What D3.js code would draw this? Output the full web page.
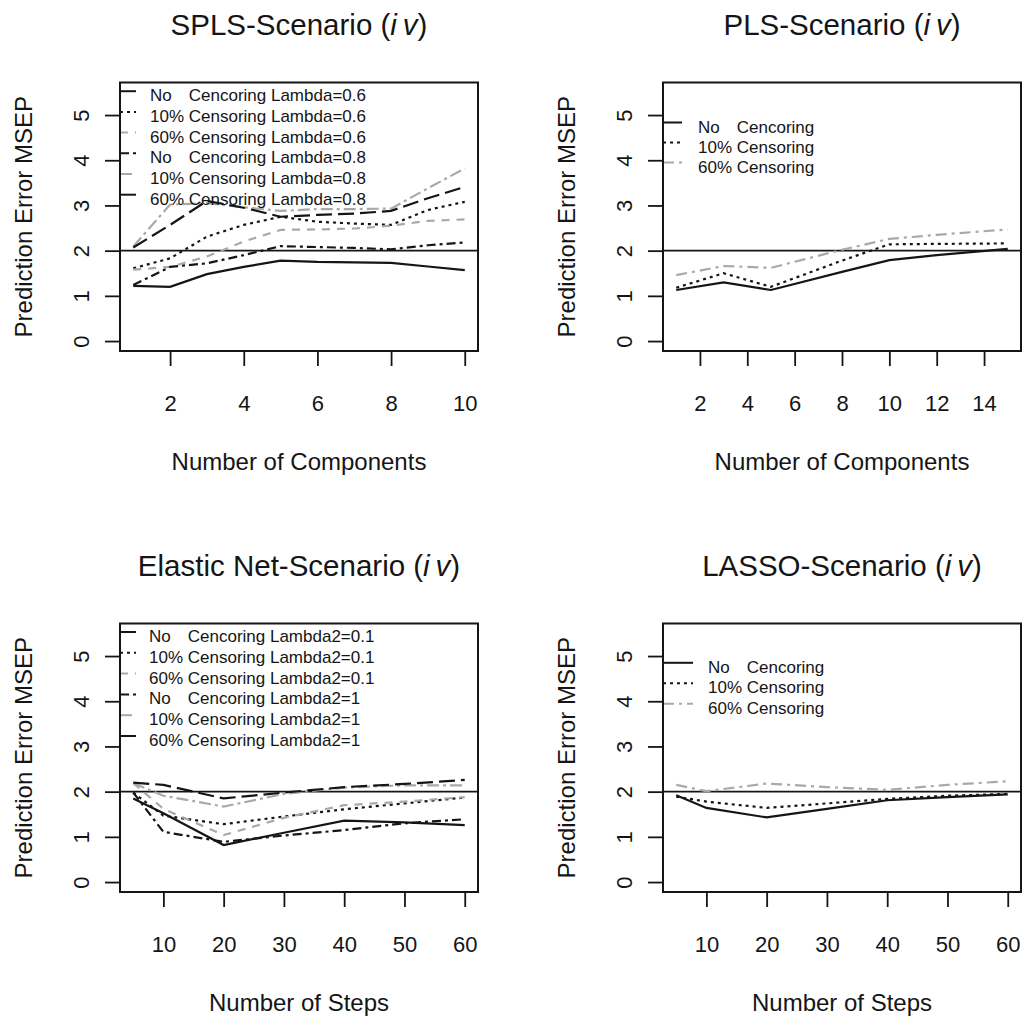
<!DOCTYPE html>
<html>
<head>
<meta charset="utf-8">
<script src="https://cdn.jsdelivr.net/npm/d3@7"></script>
<style>
  body { margin: 0; background: #fff; }
  svg { display: block; font-family: "Liberation Sans", Arial, Helvetica, sans-serif; }
</style>
</head>
<body>
<div id="chart-area"></div>
<script>
// ---- data ----
const yTicks = [0, 1, 2, 3, 4, 5]

// SPLS
const splsX = [1, 2, 3, 4, 5, 6, 7, 8, 9, 10]
const splsTicks = [2, 4, 6, 8, 10]
const splsNo06 = [1.22, 1.20, 1.48, 1.64, 1.78, 1.75, 1.74, 1.73, 1.65, 1.57]
const spls10_06 = [1.61, 1.83, 2.31, 2.57, 2.75, 2.64, 2.60, 2.57, 2.90, 3.08]
const spls60_06 = [1.58, 1.64, 1.87, 2.20, 2.46, 2.47, 2.49, 2.55, 2.66, 2.69]
const splsNo08 = [1.24, 1.64, 1.72, 1.90, 2.10, 2.08, 2.06, 2.03, 2.12, 2.18]
const spls10_08 = [2.09, 3.02, 3.05, 2.96, 2.88, 2.92, 2.92, 2.93, 3.38, 3.82]
const spls60_08 = [2.07, 2.57, 3.10, 2.95, 2.75, 2.79, 2.82, 2.88, 3.16, 3.41]
const splsLegend = ["No Cencoring Lambda=0.6", "10% Censoring Lambda=0.6", "60% Censoring Lambda=0.6",
                    "No Cencoring Lambda=0.8", "10% Censoring Lambda=0.8", "60% Censoring Lambda=0.8"]

// PLS
const plsX = [1, 3, 5, 8, 10, 12, 15]
const plsTicks = [2, 4, 6, 8, 10, 12, 14]
const plsNo = [1.13, 1.30, 1.13, 1.53, 1.79, 1.90, 2.04]
const pls10 = [1.18, 1.50, 1.20, 1.78, 2.14, 2.15, 2.16]
const pls60 = [1.46, 1.66, 1.62, 2.02, 2.26, 2.35, 2.47]
const plsLegend = ["No Cencoring", "10% Censoring", "60% Censoring"]

// Elastic Net
const enX = [5, 10, 20, 30, 40, 50, 60]
const stepTicks = [10, 20, 30, 40, 50, 60]
const enNo01 = [1.85, 1.52, 0.82, 1.09, 1.36, 1.32, 1.26]
const en10_01 = [1.98, 1.47, 1.28, 1.45, 1.61, 1.74, 1.87]
const en60_01 = [2.19, 1.62, 1.04, 1.42, 1.70, 1.78, 1.88]
const enNo1 = [1.98, 1.11, 0.89, 1.03, 1.15, 1.30, 1.39]
const en10_1 = [2.19, 1.91, 1.67, 1.95, 2.09, 2.14, 2.14]
const en60_1 = [2.20, 2.15, 1.85, 1.98, 2.10, 2.17, 2.26]
const enLegend = ["No Cencoring Lambda2=0.1", "10% Censoring Lambda2=0.1", "60% Censoring Lambda2=0.1",
                  "No Cencoring Lambda2=1", "10% Censoring Lambda2=1", "60% Censoring Lambda2=1"]

// LASSO
const lassoX = [5, 10, 20, 30, 40, 50, 60]
const lassoNo = [1.92, 1.64, 1.43, 1.62, 1.81, 1.88, 1.94]
const lasso10 = [1.89, 1.78, 1.64, 1.74, 1.84, 1.91, 1.95]
const lasso60 = [2.15, 2.01, 2.18, 2.10, 2.04, 2.15, 2.23]
const lassoLegend = ["No Cencoring", "10% Censoring", "60% Censoring"]

// ---- styles ----
const BLACK = "#151515"
const GREY = "#a9a9a9"
const SIX = [
  { color: BLACK, dash: null },
  { color: BLACK, dash: "3,4" },
  { color: GREY, dash: "8,7" },
  { color: BLACK, dash: "9,4,3,4" },
  { color: GREY, dash: "12,4,3,4" },
  { color: BLACK, dash: "16,6" }
]
const THREE = [
  { color: BLACK, dash: null },
  { color: BLACK, dash: "3,4" },
  { color: GREY, dash: "11,5,3,5" }
]

const W = 358, H = 268.5
const FS_TICK = 22, FS_LAB = 24, FS_TITLE = 29.5, FS_LEG = 17

const panels = [
  { title: "SPLS-Scenario", xlab: "Number of Components", x: splsX, ticks: splsTicks,
    series: [splsNo06, spls10_06, spls60_06, splsNo08, spls10_08, spls60_08], styles: SIX,
    legend: splsLegend, left: 120, top: 82.5, legTop: 12.7, legStep: 20.7, sampleLen: 16, textOff: 30 },
  { title: "PLS-Scenario", xlab: "Number of Components", x: plsX, ticks: plsTicks,
    series: [plsNo, pls10, pls60], styles: THREE,
    legend: plsLegend, left: 663, top: 82.5, legTop: 44, legStep: 20, sampleLen: 19, textOff: 35 },
  { title: "Elastic Net-Scenario", xlab: "Number of Steps", x: enX, ticks: stepTicks,
    series: [enNo01, en10_01, en60_01, enNo1, en10_1, en60_1], styles: SIX,
    legend: enLegend, left: 120, top: 623.5, legTop: 12.5, legStep: 20.8, sampleLen: 16, textOff: 29 },
  { title: "LASSO-Scenario", xlab: "Number of Steps", x: lassoX, ticks: stepTicks,
    series: [lassoNo, lasso10, lasso60], styles: THREE,
    legend: lassoLegend, left: 663, top: 623.5, legTop: 43.3, legStep: 20.5, sampleLen: 30, textOff: 45 }
]

const svg = d3.select("#chart-area").append("svg")
  .attr("width", 1024)
  .attr("height", 1016)

panels.forEach(p => {
  const g = svg.append("g").attr("transform", `translate(${p.left}, ${p.top})`)

  // R style 4% range extension
  const xmin = d3.min(p.x), xmax = d3.max(p.x), pad = (xmax - xmin) * 0.04
  const x = d3.scaleLinear().domain([xmin - pad, xmax + pad]).range([0, W])
  const y = d3.scaleLinear().domain([-0.22, 5.72]).range([H, 0])

  // axes
  const yAxis = g.append("g")
    .call(d3.axisLeft(y).tickValues(yTicks).tickSize(15).tickFormat(d3.format("d")))
  yAxis.select(".domain").remove()
  yAxis.selectAll(".tick line").attr("stroke", BLACK).attr("stroke-width", 1.8)
  yAxis.selectAll(".tick text")
    .attr("x", 0).attr("y", -31).attr("dy", null)
    .attr("transform", "rotate(-90)")
    .attr("text-anchor", "middle")
    .attr("font-size", FS_TICK).attr("font-family", null)
    .attr("fill", BLACK)

  const xAxis = g.append("g")
    .attr("transform", `translate(0, ${H})`)
    .call(d3.axisBottom(x).tickValues(p.ticks).tickSize(15).tickFormat(d3.format("d")))
  xAxis.select(".domain").remove()
  xAxis.selectAll(".tick line").attr("stroke", BLACK).attr("stroke-width", 1.8)
  xAxis.selectAll(".tick text")
    .attr("y", 60).attr("dy", null)
    .attr("font-size", FS_TICK).attr("font-family", null)
    .attr("fill", BLACK)

  // reference line at 2
  g.append("line")
    .attr("x1", 0).attr("x2", W)
    .attr("y1", y(2)).attr("y2", y(2))
    .attr("stroke", BLACK).attr("stroke-width", 1.8)

  // series lines
  const line = d3.line().x((d, i) => x(p.x[i])).y(d => y(d))
  p.series.forEach((s, i) => {
    g.append("path")
      .attr("d", line(s))
      .attr("fill", "none")
      .attr("stroke", p.styles[i].color)
      .attr("stroke-width", 2.2)
      .attr("stroke-dasharray", p.styles[i].dash)
  })

  // legend (no box)
  p.legend.forEach((lab, i) => {
    const cy = p.legTop + i * p.legStep
    g.append("line")
      .attr("x1", 0).attr("x2", p.sampleLen)
      .attr("y1", cy - 4).attr("y2", cy - 4)
      .attr("stroke", p.styles[i].color)
      .attr("stroke-width", 2)
      .attr("stroke-dasharray", p.styles[i].dash)
    const sp = lab.indexOf(" ")
    const t = g.append("text")
      .attr("y", cy + 6)
      .attr("font-size", FS_LEG)
      .attr("fill", BLACK)
    t.append("tspan").attr("x", p.textOff).text(lab.slice(0, sp))
    t.append("tspan").attr("x", p.textOff + 2.279 * FS_LEG).text(lab.slice(sp + 1))
  })

  // box
  g.append("rect")
    .attr("width", W).attr("height", H)
    .attr("fill", "none")
    .attr("stroke", BLACK).attr("stroke-width", 2)

  // title
  const title = g.append("text")
    .attr("x", W / 2).attr("y", -47.5)
    .attr("text-anchor", "middle")
    .attr("font-size", FS_TITLE)
    .attr("fill", BLACK)
  title.append("tspan").text(p.title + " (")
  title.append("tspan").attr("font-style", "italic").text("i\u2009v")
  title.append("tspan").text(")")

  // x label
  g.append("text")
    .attr("x", W / 2).attr("y", H + 119)
    .attr("text-anchor", "middle")
    .attr("font-size", FS_LAB)
    .attr("fill", BLACK)
    .text(p.xlab)

  // y label
  g.append("text")
    .attr("x", -H / 2).attr("y", -88)
    .attr("transform", "rotate(-90)")
    .attr("text-anchor", "middle")
    .attr("font-size", FS_LAB)
    .attr("fill", BLACK)
    .text("Prediction Error MSEP")
})
</script>
</body>
</html>
